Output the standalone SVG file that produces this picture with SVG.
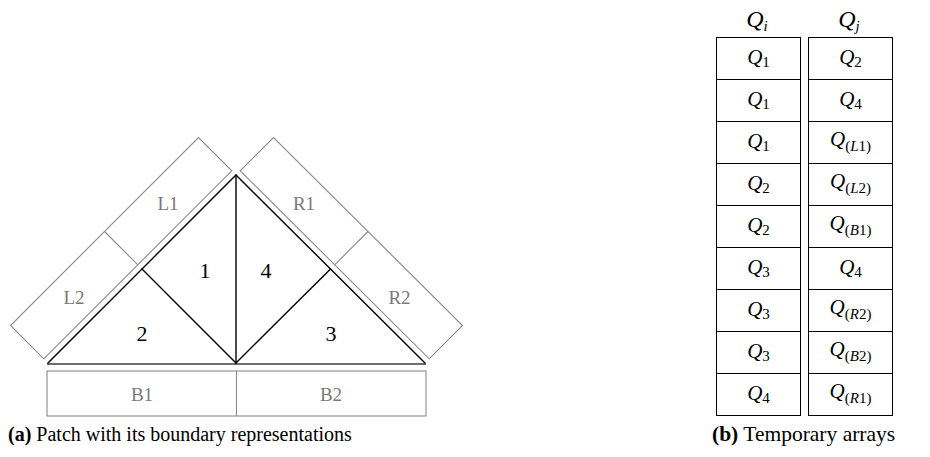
<svg xmlns="http://www.w3.org/2000/svg" width="930" height="457" viewBox="0 0 930 457">
<style>
.strip{fill:none;stroke:#8a8a8a;stroke-width:1.1}
.edge{fill:none;stroke:#000;stroke-width:1.4;stroke-linecap:round}
.base{fill:none;stroke:#6e6e6e;stroke-width:2.2}
.lbl{font-family:"Liberation Serif","DejaVu Serif",serif;font-size:19px;fill:#7a7a7a;text-anchor:middle}
.num{font-family:"Liberation Serif","DejaVu Serif",serif;font-size:22px;fill:#000;text-anchor:middle}
.cell{fill:#fff;stroke:#000;stroke-width:1}
.t{font-family:"Liberation Serif","DejaVu Serif",serif;font-size:21px;fill:#000;text-anchor:middle}
.h{font-size:24px}
.q{font-style:italic}
.s{font-size:15px}
.si{font-size:15px;font-style:italic}
.cap{font-family:"Liberation Serif","DejaVu Serif",serif;font-size:20px;fill:#000}
.capb{font-size:21.5px}
.b{font-weight:bold}
</style>
<g id="connectors">
<line class="base" x1="47" y1="364" x2="426" y2="364"/>
<polyline class="edge" points="48,363 236,175 425,363"/>
<line class="edge" x1="236" y1="175" x2="236" y2="363"/>
<polyline class="edge" points="142,269 236,363 330.5,269"/>
</g>
<g id="strip-L">
<polygon class="strip" points="43.8,358.8 231.8,170.8 198.5,137.5 10.5,325.5"/>
<line class="strip" x1="137.8" y1="264.8" x2="104.5" y2="231.5"/>
<text class="lbl" x="168" y="210">L1</text>
<text class="lbl" x="74" y="304">L2</text>
</g>
<g id="strip-R">
<polygon class="strip" points="240.2,170.8 429.2,358.8 462.5,325.5 273.5,137.5"/>
<line class="strip" x1="334.7" y1="264.8" x2="368" y2="231.5"/>
<text class="lbl" x="304" y="210">R1</text>
<text class="lbl" x="399.5" y="304">R2</text>
</g>
<g id="strip-B">
<rect class="strip" x="47" y="371" width="379" height="45"/>
<line class="strip" x1="236.5" y1="371" x2="236.5" y2="416"/>
<text class="lbl" x="142" y="401">B1</text>
<text class="lbl" x="331" y="401">B2</text>
</g>
<g id="patch-1"><text class="num" x="205" y="278">1</text></g>
<g id="patch-2"><text class="num" x="142" y="341">2</text></g>
<g id="patch-3"><text class="num" x="331" y="341">3</text></g>
<g id="patch-4"><text class="num" x="266" y="278">4</text></g>
<g id="table-header">
<text class="t h" x="757" y="27"><tspan class="q">Q</tspan><tspan class="si" dy="4">i</tspan></text>
<text class="t h" x="849" y="27"><tspan class="q">Q</tspan><tspan class="si" dy="4">j</tspan></text>
</g>
<g id="table-Qi">
<rect class="cell" x="716.5" y="37.5" width="84" height="42"/>
<rect class="cell" x="716.5" y="79.5" width="84" height="42"/>
<rect class="cell" x="716.5" y="121.5" width="84" height="42"/>
<rect class="cell" x="716.5" y="163.5" width="84" height="42"/>
<rect class="cell" x="716.5" y="205.5" width="84" height="42"/>
<rect class="cell" x="716.5" y="247.5" width="84" height="42"/>
<rect class="cell" x="716.5" y="289.5" width="84" height="42"/>
<rect class="cell" x="716.5" y="331.5" width="84" height="42"/>
<rect class="cell" x="716.5" y="373.5" width="84" height="42"/>
<text class="t" x="758.5" y="64"><tspan class="q">Q</tspan><tspan class="s" dy="3">1</tspan></text>
<text class="t" x="758.5" y="106"><tspan class="q">Q</tspan><tspan class="s" dy="3">1</tspan></text>
<text class="t" x="758.5" y="148"><tspan class="q">Q</tspan><tspan class="s" dy="3">1</tspan></text>
<text class="t" x="758.5" y="190"><tspan class="q">Q</tspan><tspan class="s" dy="3">2</tspan></text>
<text class="t" x="758.5" y="232"><tspan class="q">Q</tspan><tspan class="s" dy="3">2</tspan></text>
<text class="t" x="758.5" y="274"><tspan class="q">Q</tspan><tspan class="s" dy="3">3</tspan></text>
<text class="t" x="758.5" y="316"><tspan class="q">Q</tspan><tspan class="s" dy="3">3</tspan></text>
<text class="t" x="758.5" y="358"><tspan class="q">Q</tspan><tspan class="s" dy="3">3</tspan></text>
<text class="t" x="758.5" y="400"><tspan class="q">Q</tspan><tspan class="s" dy="3">4</tspan></text>
</g>
<g id="table-Qj">
<rect class="cell" x="808.5" y="37.5" width="84" height="42"/>
<rect class="cell" x="808.5" y="79.5" width="84" height="42"/>
<rect class="cell" x="808.5" y="121.5" width="84" height="42"/>
<rect class="cell" x="808.5" y="163.5" width="84" height="42"/>
<rect class="cell" x="808.5" y="205.5" width="84" height="42"/>
<rect class="cell" x="808.5" y="247.5" width="84" height="42"/>
<rect class="cell" x="808.5" y="289.5" width="84" height="42"/>
<rect class="cell" x="808.5" y="331.5" width="84" height="42"/>
<rect class="cell" x="808.5" y="373.5" width="84" height="42"/>
<text class="t" x="850.5" y="64"><tspan class="q">Q</tspan><tspan class="s" dy="3">2</tspan></text>
<text class="t" x="850.5" y="106"><tspan class="q">Q</tspan><tspan class="s" dy="3">4</tspan></text>
<text class="t" x="850.5" y="146"><tspan class="q">Q</tspan><tspan class="s" dy="5">(</tspan><tspan class="si">L</tspan><tspan class="s">1)</tspan></text>
<text class="t" x="850.5" y="188"><tspan class="q">Q</tspan><tspan class="s" dy="5">(</tspan><tspan class="si">L</tspan><tspan class="s">2)</tspan></text>
<text class="t" x="850.5" y="230"><tspan class="q">Q</tspan><tspan class="s" dy="5">(</tspan><tspan class="si">B</tspan><tspan class="s">1)</tspan></text>
<text class="t" x="850.5" y="274"><tspan class="q">Q</tspan><tspan class="s" dy="3">4</tspan></text>
<text class="t" x="850.5" y="314"><tspan class="q">Q</tspan><tspan class="s" dy="5">(</tspan><tspan class="si">R</tspan><tspan class="s">2)</tspan></text>
<text class="t" x="850.5" y="356"><tspan class="q">Q</tspan><tspan class="s" dy="5">(</tspan><tspan class="si">B</tspan><tspan class="s">2)</tspan></text>
<text class="t" x="850.5" y="398"><tspan class="q">Q</tspan><tspan class="s" dy="5">(</tspan><tspan class="si">R</tspan><tspan class="s">1)</tspan></text>
</g>
<g id="captions">
<text class="cap" x="8" y="441"><tspan class="b">(a)</tspan> Patch with its boundary representations</text>
<text class="cap capb" x="712" y="441"><tspan class="b">(b)</tspan> Temporary arrays</text>
</g>
</svg>
